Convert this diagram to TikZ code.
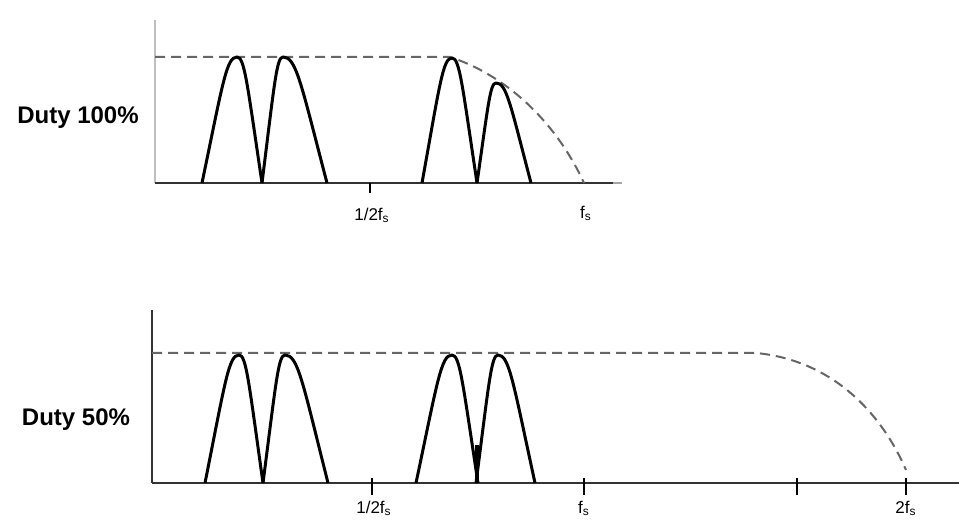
\documentclass[tikz,border=0pt]{standalone}
\usepackage{fontspec}
\setmainfont{Liberation Sans}
\usetikzlibrary{calc}

% eine Spektrallinie: linker Fuss, Spitze, rechter Fuss, Hoehe, Grundlinie
\newcommand{\speclobe}[5]{%
  \draw[lobe] (#1,#5)
    .. controls ({#1+0.6*(#2-#1)},{#5-0.8*(#5-#4)}) and ({#2-0.3*(#2-#1)},#4) .. (#2,#4)
    .. controls ({#2+0.3*(#3-#2)},#4) and ({#3-0.6*(#3-#2)},{#5-0.8*(#5-#4)}) .. (#3,#5);}

\begin{document}
\begin{tikzpicture}[x=0.5pt, y=-0.5pt,
  lobe/.style={line width=1.5pt, line join=round},
  axisline/.style={line width=1pt, black!80},
  envelope/.style={line width=1pt, black!60, dash pattern=on 5pt off 3pt},
  tickmark/.style={line width=0.9pt},
  ticklabel/.style={font=\fontsize{8.5}{9}\selectfont, inner sep=0pt},
  dutylabel/.style={font=\fontsize{12}{14}\selectfont\bfseries, inner sep=0pt}]
  \useasboundingbox (0,0) rectangle (959,523);
  % oberes Bild: Duty 100%
  \draw[black!25, line width=0.6pt] (155,20) -- (155,183);
  \draw[axisline] (155,183) -- (613,183);
  \draw[black!35, line width=1pt] (613,183) -- (622,183);
  \draw[envelope] (155,57) -- (450,57)
    .. controls (505,75) and (555,120) .. (584,183);
  \speclobe{202}{237}{262}{57}{183}
  \speclobe{262}{283}{327}{57}{183}
  \speclobe{422}{452}{477}{58}{183}
  \speclobe{477}{496}{531}{83}{183}
  \draw[tickmark] (370,183) -- (370,193);
  \node[dutylabel] (dutyA) at (78,118) {Duty 100\%};
  \node[ticklabel] (halfA) at (372,215) {1/2f\textsubscript{s}};
  \node[ticklabel] (fsA) at (586,213) {f\textsubscript{s}};
  % unteres Bild: Duty 50%
  \draw[axisline] (152,310) -- (152,483);
  \draw[axisline] (152,483) -- (959,483);
  \draw[envelope] (152,353) -- (756,353)
    .. controls (830,360) and (880,410) .. (906,470);
  \speclobe{205}{239}{263}{355}{483}
  \speclobe{263}{285}{328}{355}{483}
  \speclobe{416}{452}{478}{355}{483}
  \speclobe{476}{498}{535}{355}{483}
  \draw[line width=2.2pt] (477,445) -- (477,483);
  \foreach \tx in {372,584,797,906}
    \draw[tickmark] (\tx,478) -- (\tx,495);
  \node[dutylabel] (dutyB) at (76,420) {Duty 50\%};
  \node[ticklabel] (halfB) at (374,508) {1/2f\textsubscript{s}};
  \node[ticklabel] (fsB) at (584,508) {f\textsubscript{s}};
  \node[ticklabel] (twofsB) at (906,508) {2f\textsubscript{s}};
\end{tikzpicture}
\end{document}
